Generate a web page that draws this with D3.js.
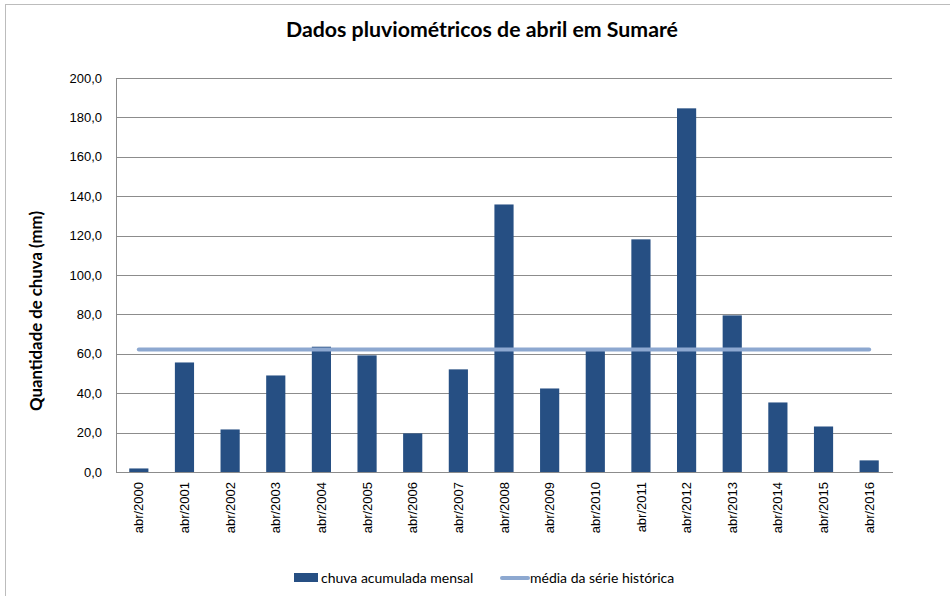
<!DOCTYPE html>
<html>
<head>
<meta charset="utf-8">
<script src="https://cdn.jsdelivr.net/npm/d3@7"></script>
<style>
  body { margin: 0; background: #fff; }
  svg { display: block; font-family: Lato, "Open Sans", sans-serif; }
  .grid line { stroke: #8c8c8c; stroke-width: 1; shape-rendering: crispEdges; }
  .grid .domain { display: none; }
  .axis .domain { stroke: #8c8c8c; shape-rendering: crispEdges; }
  .axis text { font-size: 13px; fill: #000; }
</style>
</head>
<body>
<script>
var years = ["abr/2000", "abr/2001", "abr/2002", "abr/2003", "abr/2004", "abr/2005",
             "abr/2006", "abr/2007", "abr/2008", "abr/2009", "abr/2010", "abr/2011",
             "abr/2012", "abr/2013", "abr/2014", "abr/2015", "abr/2016"];
var chuva = [1.8, 55.6, 21.6, 49.0, 63.6, 59.2, 19.6, 52.1, 135.8, 42.4,
             61.4, 118.1, 184.6, 79.5, 35.3, 23.1, 5.9];
var media = 62.2;
var yTicks = [0, 20, 40, 60, 80, 100, 120, 140, 160, 180, 200];

var margin = {top: 78, right: 58, bottom: 124, left: 116},
    W = 950, H = 596,
    width = W - margin.left - margin.right,
    height = H - margin.top - margin.bottom;

var svg = d3.select("body").append("svg")
    .attr("width", W)
    .attr("height", H);

// chart frame
svg.append("rect")
    .attr("x", 5.5)
    .attr("y", 4.5)
    .attr("width", 990)
    .attr("height", 640)
    .attr("fill", "none")
    .attr("stroke", "#bcbcbc");

svg.append("text")
    .attr("x", 482)
    .attr("y", 37)
    .attr("text-anchor", "middle")
    .style("font-size", "21.3px")
    .style("font-weight", "bold")
    .text("Dados pluviométricos de abril em Sumaré");

var g = svg.append("g")
    .attr("transform", "translate(" + margin.left + "," + margin.top + ")");

var x = d3.scaleBand()
    .domain(years)
    .range([0, width])
    .paddingInner(0.58)
    .paddingOuter(0.29);

var y = d3.scaleLinear()
    .domain([0, 200])
    .range([height, 0]);

g.append("g")
    .attr("class", "grid")
    .call(d3.axisLeft(y).tickValues(yTicks).tickSize(-width).tickFormat(""));

g.append("g")
    .attr("class", "axis y")
    .call(d3.axisLeft(y).tickValues(yTicks).tickSize(0).tickPadding(14)
      .tickFormat(function(d) { return d3.format(".1f")(d).replace(".", ","); }));

g.append("g")
    .attr("class", "axis x")
    .attr("transform", "translate(0," + height + ")")
    .call(d3.axisBottom(x).tickSize(0))
  .selectAll("text")
    .attr("transform", "rotate(-90)")
    .attr("x", -10)
    .attr("y", 0)
    .attr("dy", ".35em")
    .style("text-anchor", "end");

g.selectAll(".bar")
    .data(chuva)
  .enter().append("rect")
    .attr("class", "bar")
    .attr("x", function(d, i) { return x(years[i]); })
    .attr("y", function(d) { return y(d); })
    .attr("width", x.bandwidth())
    .attr("height", function(d) { return height - y(d); })
    .attr("fill", "#264f83");

var half = x.bandwidth() / 2;
g.append("line")
    .attr("x1", x(years[0]) + half)
    .attr("x2", x(years[years.length - 1]) + half)
    .attr("y1", y(media))
    .attr("y2", y(media))
    .attr("stroke", "#8da8d0")
    .attr("stroke-width", 4)
    .attr("stroke-linecap", "round");

svg.append("text")
    .attr("transform", "translate(36," + 311 + ") rotate(-90)")
    .attr("dy", ".35em")
    .attr("text-anchor", "middle")
    .style("font-size", "16.8px")
    .style("font-weight", "bold")
    .text("Quantidade de chuva (mm)");

// legend
var legend = svg.append("g").style("font-size", "14px");
legend.append("rect")
    .attr("x", 294).attr("y", 573)
    .attr("width", 24).attr("height", 9)
    .attr("fill", "#264f83");
legend.append("text")
    .attr("x", 321).attr("y", 583)
    .text("chuva acumulada mensal");
legend.append("line")
    .attr("x1", 502).attr("x2", 528)
    .attr("y1", 578).attr("y2", 578)
    .attr("stroke", "#8da8d0")
    .attr("stroke-width", 4)
    .attr("stroke-linecap", "round");
legend.append("text")
    .attr("x", 530).attr("y", 583)
    .text("média da série histórica");
</script>
</body>
</html>
